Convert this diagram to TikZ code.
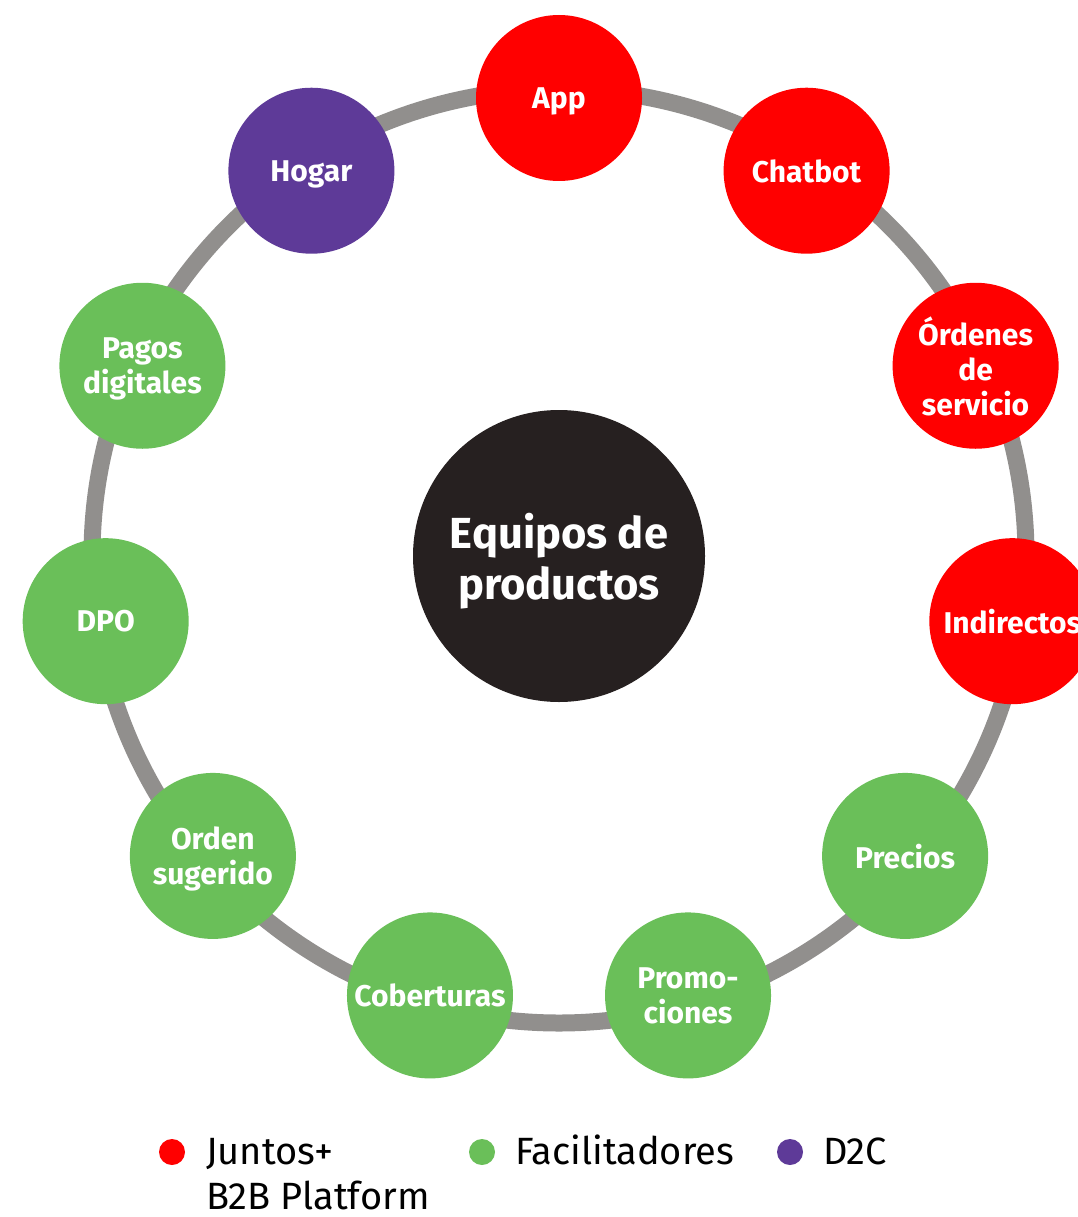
\documentclass[tikz,border=0pt]{standalone}
\usepackage{fontspec}
\setmainfont{Fira Sans}
\newfontfamily\legendfont{Fira Sans}
\usepackage{tikz}
\usetikzlibrary{calc,positioning}
\definecolor{juntosred}{HTML}{FF0000}
\definecolor{facgreen}{HTML}{6ABF59}
\definecolor{dtcpurple}{HTML}{5E3A98}
\definecolor{ringgray}{HTML}{918F8D}
\definecolor{hubblack}{HTML}{262020}

\begin{document}
\begin{tikzpicture}[
  x=1pt,y=-1pt,
  team/.style={circle,minimum size=166pt,inner sep=0pt,align=center,
    text=white,text depth=0pt,font=\fontsize{30}{35}\selectfont\bfseries},
  hub/.style={circle,fill=hubblack,minimum size=292pt,inner sep=0pt,
    align=center,text=white,text depth=0pt,
    font=\fontsize{43.5}{51}\selectfont\bfseries},
  ring/.style={draw=ringgray,line width=17pt},
  legdot/.style={circle,minimum size=26pt,inner sep=0pt},
  legtext/.style={align=left,inner sep=0pt,
    font=\legendfont\fontsize{38}{45}\selectfont}
]
\useasboundingbox (0,0) rectangle (1077,1217);
% hub and ring
\node[hub] (hub) at (559,556) {Equipos de\\productos};
\draw[ring] (hub) circle[radius=467];
% product teams, clockwise from the top
\foreach \i/\txt/\col in {0/App/juntosred,1/Chatbot/juntosred,
    2/{Órdenes\\de\\servicio}/juntosred,3/Indirectos/juntosred,
    4/Precios/facgreen,5/{Promo-\\ciones}/facgreen,6/Coberturas/facgreen,
    7/{Orden\\sugerido}/facgreen,8/DPO/facgreen,
    9/{Pagos\\digitales}/facgreen,10/Hogar/dtcpurple}
  \node[team,fill=\col] (team\i) at ($(hub)+(-90+\i*32.7273:458)$) {\txt};
% legend
\node[legdot,fill=juntosred] (dotj) at (172,1152) {};
\node[legdot,fill=facgreen] (dotf) at (482,1152) {};
\node[legdot,fill=dtcpurple] (dotd) at (790,1152) {};
\node[legtext,anchor=north west] (legj) at (206,1138) {Juntos+\\B2B Platform};
\node[legtext,anchor=base west] (legf) at (515,1164) {Facilitadores};
\node[legtext,anchor=base west] (legd) at (823,1164) {D2C};
\end{tikzpicture}
\end{document}
